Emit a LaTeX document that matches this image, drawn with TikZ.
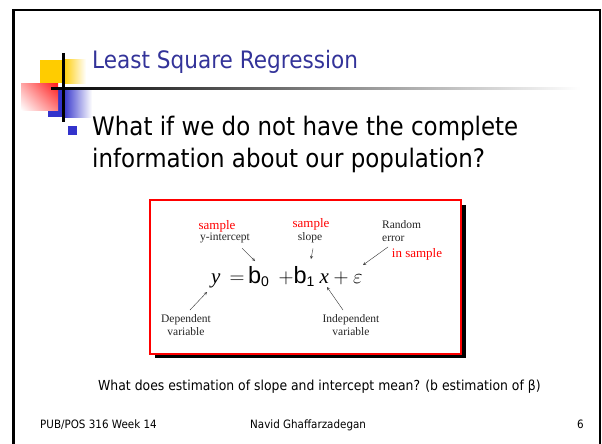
\documentclass[tikz,border=0pt]{standalone}
\usepackage{fontspec}
\setmainfont{Liberation Serif}
\setsansfont{Liberation Sans}
\newfontfamily\slidefont{DejaVu Sans}[FakeStretch=0.9]
\usetikzlibrary{positioning,shadings}

\definecolor{titleblue}{RGB}{51,51,153}
\definecolor{logoblue}{RGB}{51,51,204}
\definecolor{logoyellow}{RGB}{255,204,0}

% sans b with a sans index, as in the slide's formula
\newcommand{\bcoef}[1]{\mbox{\sffamily\fontsize{23.5}{24}\selectfont b}_{\mbox{\sffamily\fontsize{14}{14}\selectfont #1}}}

\tikzset{
  note/.style={font=\fontsize{11.5}{13.5}\selectfont, align=center, inner sep=0pt, text=black!85},
  rednote/.style={font=\fontsize{13}{15}\selectfont, text=red, inner sep=0pt},
  pointer/.style={->, >=stealth, thin, black!80},
  footer/.style={font=\slidefont\fontsize{11.5}{13}\selectfont, inner sep=0pt},
}

\begin{document}
\begin{tikzpicture}[x=1pt, y=-1pt]
\useasboundingbox (0,0) rectangle (602,444);
\clip (0,0) rectangle (602,444);
% slide frame
\draw[line width=2.5pt] (13.5,10) rectangle (600,470);

% corner logo
\fill[logoyellow] (40,60) rectangle (63,83);
\shade[left color=logoyellow, right color=white] (63,60) rectangle (86,83);
\fill[logoblue] (48,88) rectangle (63,117);
\shade[left color=logoblue, right color=white] (63,88) rectangle (92,117);
\shade[upper left=red!35, upper right=red!90, lower left=white, lower right=red!50] (21,83) rectangle (58,110);
\shade[left color=black, middle color=black!45, right color=white] (51,87) rectangle (580,89);
\draw[line width=3pt] (63,53) -- (63,122);

\node[anchor=base west, inner sep=0pt, text=titleblue, font=\slidefont\fontsize{24}{28}\selectfont] (title) at (92,68) {Least Square Regression};

% bullet point
\node[fill=logoblue, minimum size=9pt, inner sep=0pt] (bullet) at (72,130.5) {};
\node[anchor=base west, inner sep=0pt, font=\slidefont\fontsize{25.5}{30}\selectfont] (lineone) at (92,135) {What if we do not have the complete};
\node[anchor=base west, inner sep=0pt, font=\slidefont\fontsize{25.5}{30}\selectfont] (linetwo) at (92,167) {information about our population?};

% framed model
\fill[black] (155,205) rectangle (466,358);
\draw[red, line width=1.3pt, fill=white] (150,200) rectangle (461,354);

\node[anchor=base west, inner sep=0pt, font=\fontsize{21}{25}\selectfont] (model) at (211,283)
  {$\mathit{y}\mkern8mu{=}\mkern3mu\bcoef{0}\mkern8mu{+}\bcoef{1}\mkern4mu\mathit{x} + \varepsilon$};

\node[rednote] (samplea) at (217,226) {sample};
\node[note] (intercept) at (225,238) {y-intercept};
\node[rednote] (sampleb) at (311,224) {sample};
\node[note] (slope) at (310,238) {slope};
\node[note, align=left, anchor=west] (error) at (382,231) {Random\\error};
\node[rednote] (insample) at (417,254) {in sample};
\node[note] (dependent) at (186,325) {Dependent\\variable};
\node[note] (independent) at (351,325) {Independent\\variable};

\coordinate (bzero) at (255,261);
\coordinate (bone) at (311,259);
\coordinate (eps) at (363,265);
\coordinate (ylhs) at (207,292);
\coordinate (xrhs) at (327,287);
\draw[pointer] ([shift={(-8,5)}]intercept.south east) -- (bzero);
\draw[pointer] ([shift={(3,5)}]slope.south) -- (bone);
\draw[pointer] ([shift={(6,5)}]error.south west) -- (eps);
\draw[pointer] ([shift={(4,-4)}]dependent.north) -- (ylhs);
\draw[pointer] ([shift={(-8,-4)}]independent.north) -- (xrhs);

\node[anchor=base west, inner sep=0pt, font=\slidefont\fontsize{13.8}{16}\selectfont] (estimation) at (98,390)
  {What does estimation of slope and intercept mean? (b estimation of β)};

% footer
\node[footer, anchor=base west] (course) at (40,428) {PUB/POS 316 Week 14};
\node[footer, anchor=base west] (author) at (250,428) {Navid Ghaffarzadegan};
\node[footer, anchor=base east] (page) at (584,428) {6};
\end{tikzpicture}
\end{document}
